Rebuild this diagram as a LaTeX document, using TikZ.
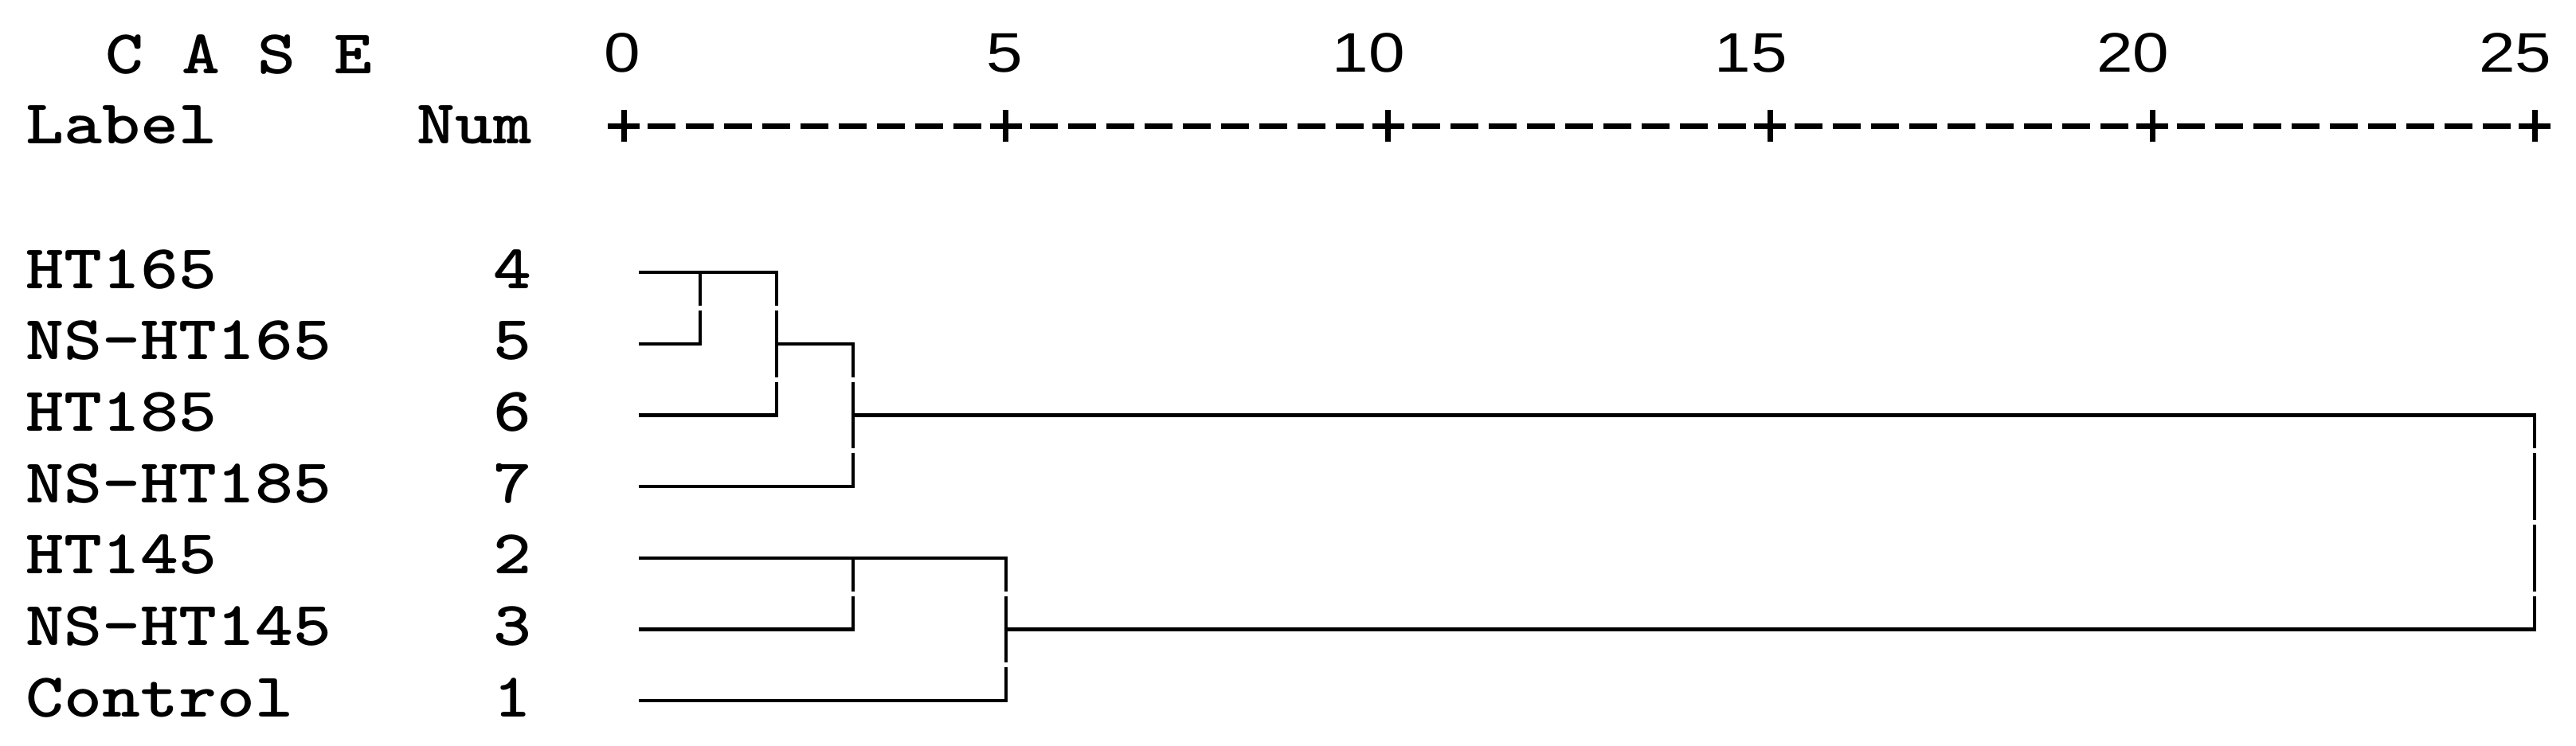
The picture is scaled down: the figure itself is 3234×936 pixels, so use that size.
\documentclass[tikz,border=0pt]{standalone}
\usepackage{fontspec}
\newfontfamily\axisfont[FakeStretch=1.17]{Liberation Sans}
\usepackage{tikz}
\usetikzlibrary{calc}
\newcommand{\ax}[1]{783+95.96*#1}
\newcommand{\cw}[1]{\scalebox{1.165}[1]{#1}}

\begin{document}
\begin{tikzpicture}[
    x=0.25pt, y=-0.25pt,
    mono/.style={font=\fontsize{19.6}{24}\selectfont\ttfamily\bfseries, inner sep=0pt},
    caselabel/.style={mono, anchor=base west},
    casenum/.style={mono, anchor=base east},
    axisnum/.style={font=\fontsize{17.5}{21}\selectfont\axisfont, inner sep=0pt, anchor=base east},
    tick/.style={line width=1.75pt},
    branch/.style={line width=1.1pt, line cap=rect},
    joinline/.style={line width=1.1pt, dash pattern=on 20.925pt off 1.5pt, dash phase=10.4625pt}
]
\useasboundingbox (0,0) rectangle (3234,936);

% Header
\node[mono, anchor=base] (casehead) at (300,92) {\cw{C A S E}};
\node[caselabel] (labelhead) at (32,180) {\cw{Label}};
\node[casenum] (numhead) at (668,180) {\cw{Num}};

% Rescaled distance axis
\foreach \t in {0,5,...,25} {
  \coordinate (t\t) at ({\ax{\t}},158);
  \node[axisnum] (n\t) at ({\ax{\t}+22},90) {\t};
  \draw[tick] (t\t) +(-20,0) -- +(20,0) (t\t) +(0,-20) -- +(0,20);
}
\foreach \t in {0,5,...,20}
  \foreach \k in {1,...,9}
    \draw[tick] ({\ax{\t}+47.98*\k-17.5},158) -- ++(35,0);
\foreach \m in {1,2,3}
  \coordinate (t\m) at ({\ax{\m}},158);

% Cases
\foreach \lab/\num [count=\r] in {HT165/4, NS-HT165/5, HT185/6, NS-HT185/7, HT145/2, NS-HT145/3, Control/1} {
  \node[caselabel] (lab\num) at (32,{252.3+89.7*\r+20}) {\cw{\lab}};
  \node[casenum] (num\num) at (668,{252.3+89.7*\r+20}) {\cw{\num}};
  \coordinate (leaf\num) at (804,{252.3+89.7*\r});
}

% Dendrogram
\draw[branch] (leaf4) -- (leaf4 -| t2);
\draw[branch] (leaf5) -- (leaf5 -| t1);
\draw[branch] (leaf5 -| t2) -- (leaf5 -| t3);
\draw[branch] (leaf6) -- (leaf6 -| t2);
\draw[branch] (leaf6 -| t3) -- (leaf6 -| t25);
\draw[branch] (leaf7) -- (leaf7 -| t3);
\draw[branch] (leaf2) -- (leaf2 -| t5);
\draw[branch] (leaf3) -- (leaf3 -| t3);
\draw[branch] (leaf3 -| t5) -- (leaf3 -| t25);
\draw[branch] (leaf1) -- (leaf1 -| t5);

\draw[joinline] (leaf4 -| t1) -- (leaf5 -| t1);
\draw[joinline] (leaf4 -| t2) -- (leaf6 -| t2);
\draw[joinline] (leaf5 -| t3) -- (leaf7 -| t3);
\draw[joinline] (leaf2 -| t3) -- (leaf3 -| t3);
\draw[joinline] (leaf2 -| t5) -- (leaf1 -| t5);
\draw[joinline] (leaf6 -| t25) -- (leaf3 -| t25);

\end{tikzpicture}
\end{document}
